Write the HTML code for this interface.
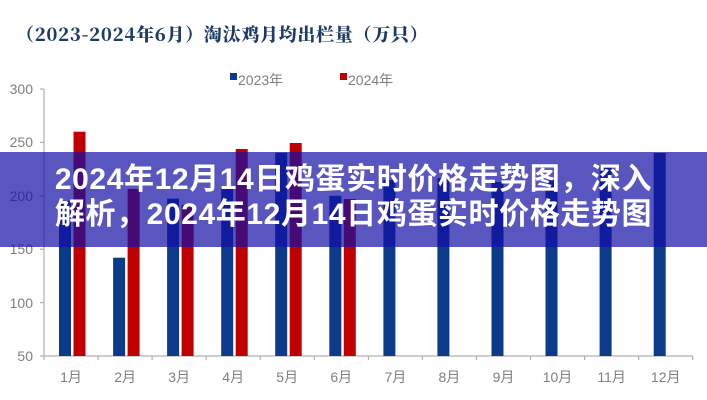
<!DOCTYPE html>
<html>
<head>
<meta charset="utf-8">
<style>
  html,body{margin:0;padding:0;background:#fff;}
  #wrap{position:relative;width:707px;height:400px;overflow:hidden;background:#fff;}
  svg{position:absolute;left:0;top:0;}
  #band{position:absolute;left:0;top:152px;width:707px;height:95px;background:rgba(19,14,165,0.7);}
  #ttl{position:absolute;left:0;top:162px;width:707px;text-align:center;color:#fff;
       font-family:"Liberation Sans","Noto Sans CJK SC",sans-serif;font-weight:bold;
       font-size:30px;line-height:35px;letter-spacing:0.6px;white-space:nowrap;}
</style>
</head>
<body>
<div id="wrap">
<svg width="707" height="400" viewBox="0 0 707 400" xmlns="http://www.w3.org/2000/svg">
  <text x="16" y="41" font-family="'Noto Serif CJK SC','Noto Sans CJK SC',serif" font-weight="900" font-size="18" letter-spacing="0.7" fill="#1e3a66">（2023-2024年6月）淘汰鸡月均出栏量（万只）</text>

  <!-- legend -->
  <rect x="230" y="73" width="7" height="7" fill="#0d3b8c"/>
  <text x="238" y="85" font-family="'Liberation Sans','Noto Sans CJK SC',sans-serif" font-size="14" fill="#808080">2023年</text>
  <rect x="340" y="73" width="7" height="7" fill="#c00000"/>
  <text x="348" y="85" font-family="'Liberation Sans','Noto Sans CJK SC',sans-serif" font-size="14" fill="#808080">2024年</text>

  <!-- y axis -->
  <g font-family="'Liberation Sans',sans-serif" font-size="14" fill="#7f7f7f" text-anchor="end">
    <text x="33" y="94">300</text>
    <text x="33" y="147">250</text>
    <text x="33" y="201">200</text>
    <text x="33" y="254">150</text>
    <text x="33" y="308">100</text>
    <text x="33" y="361">50</text>
  </g>
  <g stroke="#b0b0b0" stroke-width="1.2">
    <line x1="44" y1="89" x2="44" y2="356"/>
    <line x1="40" y1="89" x2="44" y2="89"/>
    <line x1="40" y1="142.4" x2="44" y2="142.4"/>
    <line x1="40" y1="195.8" x2="44" y2="195.8"/>
    <line x1="40" y1="249.2" x2="44" y2="249.2"/>
    <line x1="40" y1="302.6" x2="44" y2="302.6"/>
    <line x1="40" y1="356" x2="44" y2="356"/>
    <line x1="44" y1="356" x2="693" y2="356"/>
    <line x1="44" y1="356" x2="44" y2="360"/>
    <line x1="98.1" y1="356" x2="98.1" y2="360"/>
    <line x1="152.1" y1="356" x2="152.1" y2="360"/>
    <line x1="206.2" y1="356" x2="206.2" y2="360"/>
    <line x1="260.2" y1="356" x2="260.2" y2="360"/>
    <line x1="314.3" y1="356" x2="314.3" y2="360"/>
    <line x1="368.4" y1="356" x2="368.4" y2="360"/>
    <line x1="422.4" y1="356" x2="422.4" y2="360"/>
    <line x1="476.5" y1="356" x2="476.5" y2="360"/>
    <line x1="530.5" y1="356" x2="530.5" y2="360"/>
    <line x1="584.6" y1="356" x2="584.6" y2="360"/>
    <line x1="638.7" y1="356" x2="638.7" y2="360"/>
    <line x1="692.7" y1="356" x2="692.7" y2="360"/>
  </g>

  <!-- 2023 bars (blue) -->
  <g fill="#0d3b8c">
    <rect x="59" y="200.8" width="12" height="155.2"/>
    <rect x="113.1" y="257.7" width="12" height="98.3"/>
    <rect x="167.1" y="198.7" width="12" height="157.3"/>
    <rect x="221.2" y="188" width="12" height="168"/>
    <rect x="275.2" y="152.7" width="12" height="203.3"/>
    <rect x="329.3" y="195.8" width="12" height="160.2"/>
    <rect x="383.4" y="180" width="12" height="176"/>
    <rect x="437.4" y="178" width="12" height="178"/>
    <rect x="491.5" y="182" width="12" height="174"/>
    <rect x="545.5" y="180" width="12" height="176"/>
    <rect x="599.6" y="165" width="12" height="191"/>
    <rect x="653.7" y="153" width="12" height="203"/>
  </g>
  <!-- 2024 bars (red) -->
  <g fill="#c00000">
    <rect x="73.5" y="131.7" width="12" height="224.3"/>
    <rect x="127.6" y="189" width="12" height="167"/>
    <rect x="181.6" y="204.8" width="12" height="151.2"/>
    <rect x="235.7" y="149" width="12" height="207"/>
    <rect x="289.7" y="143" width="12" height="213"/>
    <rect x="343.8" y="199" width="12" height="157"/>
  </g>

  <!-- x labels -->
  <g font-family="'Liberation Sans','Noto Sans CJK SC',sans-serif" font-size="14" fill="#7f7f7f" text-anchor="middle">
    <text x="71" y="382">1月</text>
    <text x="125.1" y="382">2月</text>
    <text x="179.1" y="382">3月</text>
    <text x="233.2" y="382">4月</text>
    <text x="287.2" y="382">5月</text>
    <text x="341.3" y="382">6月</text>
    <text x="395.4" y="382">7月</text>
    <text x="449.4" y="382">8月</text>
    <text x="503.5" y="382">9月</text>
    <text x="557.5" y="382">10月</text>
    <text x="611.6" y="382">11月</text>
    <text x="665.7" y="382">12月</text>
  </g>
</svg>
<div id="band"></div>
<div id="ttl">2024年12月14日鸡蛋实时价格走势图，深入<br>解析，2024年12月14日鸡蛋实时价格走势图</div>
</div>
</body>
</html>
